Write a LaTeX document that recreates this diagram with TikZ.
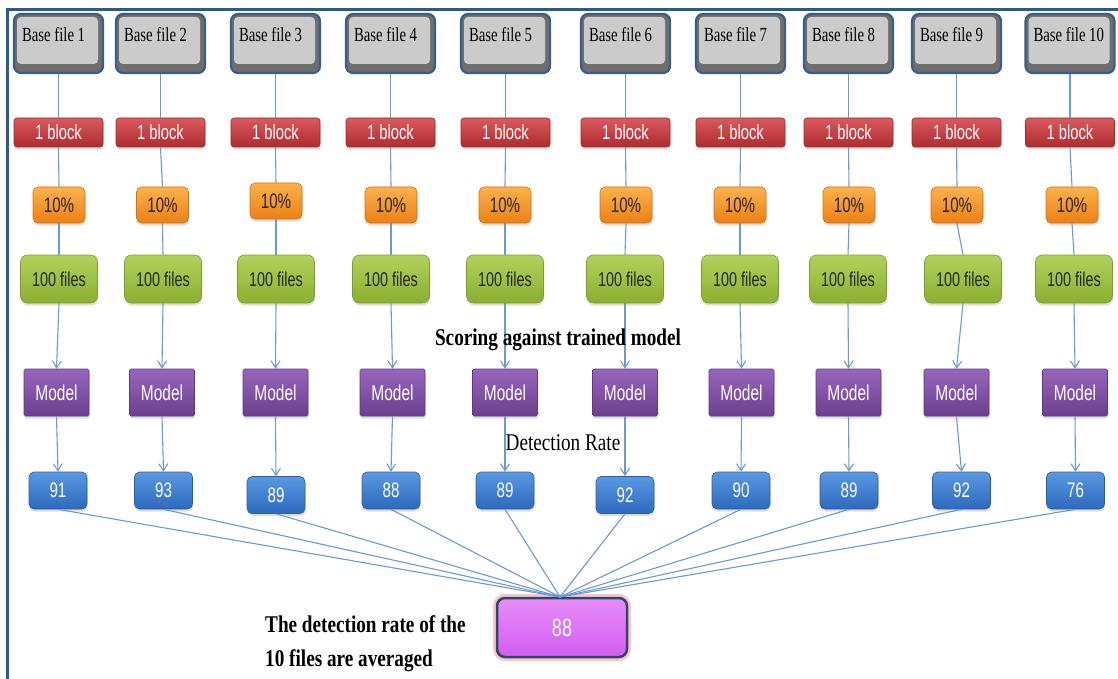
\documentclass[tikz,border=0pt]{standalone}
\usepackage{fontspec}
\usetikzlibrary{arrows.meta,shadows,calc}

% narrow faces for box labels and captions
\newfontfamily\labsans[FakeStretch=0.72]{Liberation Sans}
\newfontfamily\labserif[FakeStretch=0.74]{Liberation Serif}
\newfontfamily\capserif[FakeStretch=0.8]{Liberation Serif}
% tighter word gaps for the file labels
\newcommand\tightwords{\spaceskip=3.6pt\relax}

\definecolor{frameblue}{HTML}{2B5A8F}
\definecolor{edgeblue}{HTML}{365F8C}
\definecolor{bevelgray}{HTML}{6E6E6E}
\definecolor{facegray}{HTML}{CBCBCB}
\definecolor{redtop}{HTML}{DA5A5D}
\definecolor{redbot}{HTML}{AE2B2F}
\definecolor{redline}{HTML}{9E2A2D}
\definecolor{orgtop}{HTML}{FCB24C}
\definecolor{orgbot}{HTML}{EC8013}
\definecolor{orgline}{HTML}{D27219}
\definecolor{grntop}{HTML}{B0D25C}
\definecolor{grnbot}{HTML}{8BAF30}
\definecolor{grnline}{HTML}{7D9D2B}
\definecolor{purtop}{HTML}{9766BC}
\definecolor{purbot}{HTML}{6C3F8F}
\definecolor{purline}{HTML}{5E387E}
\definecolor{blutop}{HTML}{5A98E2}
\definecolor{blubot}{HTML}{2D69BD}
\definecolor{bluline}{HTML}{2A5F9F}
\definecolor{magtop}{HTML}{E78DF9}
\definecolor{magbot}{HTML}{D25DF0}
\definecolor{magline}{HTML}{2D4865}
\definecolor{glowpink}{HTML}{F4A3A3}
\definecolor{linkblue}{HTML}{6A9AD4}

\tikzset{
  shade box/.style={inner sep=0pt, line width=0.6pt,
    drop shadow={shadow xshift=0.5pt, shadow yshift=-2.5pt, opacity=0.25}},
  basefile/.style={rounded corners=7pt, draw=edgeblue, line width=2.2pt,
    fill=bevelgray, text width=73pt, inner xsep=8pt, inner ysep=0pt,
    text height=28pt, text depth=31pt, align=left,
    font=\labserif\fontsize{20}{20}\selectfont,
    path picture={\fill[facegray, rounded corners=4pt]
      ($(path picture bounding box.north west)+(3,3)$) rectangle
      ($(path picture bounding box.south east)+(-5,-9)$);}},
  blockbox/.style={shade box, rounded corners=3pt, minimum width=89pt,
    minimum height=29pt, top color=redtop, bottom color=redbot,
    draw=redline, text=white, font=\labsans\fontsize{20.5}{20}\selectfont},
  pctbox/.style={shade box, rounded corners=5pt, minimum width=52pt,
    minimum height=36pt, top color=orgtop, bottom color=orgbot,
    draw=orgline, text=black!85, font=\labsans\fontsize{21}{20}\selectfont},
  filebox/.style={shade box, rounded corners=7pt, minimum width=77pt,
    minimum height=48pt, top color=grntop, bottom color=grnbot,
    draw=grnline, text=black!85, font=\labsans\fontsize{20}{20}\selectfont},
  modelbox/.style={shade box, rounded corners=1.5pt, minimum width=65pt,
    minimum height=47pt, top color=purtop, bottom color=purbot,
    draw=purline, text=white, font=\labsans\fontsize{21.5}{20}\selectfont},
  ratebox/.style={shade box, rounded corners=5pt, minimum width=58pt,
    minimum height=37pt, top color=blutop, bottom color=blubot,
    draw=bluline, text=white, font=\labsans\fontsize{21}{20}\selectfont},
  avgbox/.style={rounded corners=8pt, minimum width=130pt, minimum height=59pt,
    inner sep=0pt, top color=magtop, bottom color=magbot,
    draw=magline, line width=2.5pt, text=white,
    preaction={draw=glowpink, line width=8pt, opacity=0.6},
    font=\labsans\fontsize{25}{25}\selectfont},
  link/.style={draw=linkblue, line width=1.1pt},
  arrowlink/.style={link, -{Straight Barb[length=7pt,width=9pt]}},
  caption/.style={inner sep=0pt, text=black,
    font=\capserif\fontsize{24}{34}\selectfont},
  frameline/.style={draw=frameblue, line width=3pt}
}

\begin{document}
\begin{tikzpicture}[x=1pt, y=-1pt]
  \useasboundingbox (0,0) rectangle (1118,679);
  \fill[white] (0,0) rectangle (1118,679);

  % outer frame (left and top edges)
  \draw[frameline] (7.5,679) -- (7.5,10) -- (1118,10);

  % ten processing columns
  \foreach \i/\xb/\xp/\yp/\xf/\xm/\xs/\ys/\rate in {
      1/58.5/59/205/59/56.5/58/490.5/91,
      2/160.5/162.5/205/163/162/163.5/490.5/93,
      3/275.5/276/201/276/275.5/276/495/89,
      4/390.5/391/205/391/392.5/391/490.5/88,
      5/505.5/505/205/505/505/505/490.5/89,
      6/625.5/626/205/625/625/625/495/92,
      7/740.5/740/205/740/741.5/741/490.5/90,
      8/848.5/849/205/848/848.5/849/490.5/89,
      9/956.5/957/205/963/956.5/961.5/490.5/92,
      10/1070/1072/205/1074/1075/1075.5/490.5/76} {
    \node[basefile]  (base\i) at (\xb,43.5) {\tightwords\mbox{Base file \i}};
    \node[blockbox]  (blk\i)  at (\xb,132.5) {1 block};
    \node[pctbox]    (pct\i)  at (\xp,\yp) {10\%};
    \node[filebox]   (fil\i)  at (\xf,279) {100 files};
    \node[modelbox]  (mdl\i)  at (\xm,392.5) {Model};
    \node[ratebox]   (det\i)  at (\xs,\ys) {\rate};
  }

  % averaged result
  \node[avgbox] (avg) at (562,627.5) {88};
  \coordinate (hub) at (560,597);

  \foreach \i in {1,...,10} {
    \draw[link] (base\i.south) -- (blk\i.north);
    \draw[link] (blk\i.south) -- (pct\i.north);
    \draw[link] (pct\i.south) -- (fil\i.north);
    \draw[arrowlink] (fil\i.south) -- (mdl\i.north);
    \draw[arrowlink] (mdl\i.south) -- (det\i.north);
    \draw[link] (det\i.south) -- (hub);
  }

  % captions
  \node[caption, anchor=base, font=\capserif\bfseries\fontsize{24}{30}\selectfont]
    (scoring) at (558,345) {Scoring against trained model};
  \node[caption, anchor=base] (detrate) at (563,450) {Detection Rate};
  \node[caption, anchor=base west, align=left,
        font=\capserif\bfseries\fontsize{24}{34}\selectfont]
    (avgnote) at (265,666) {The detection rate of the\\10 files are averaged};
\end{tikzpicture}
\end{document}
